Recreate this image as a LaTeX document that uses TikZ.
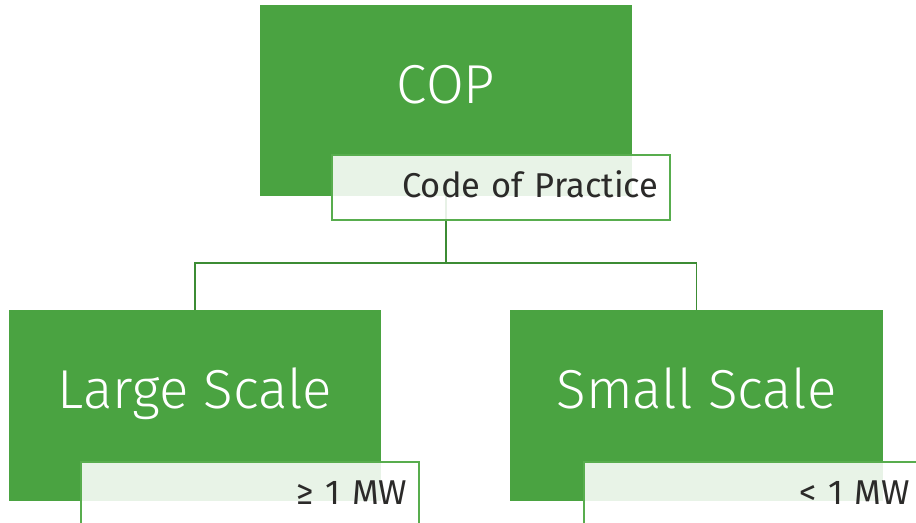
\documentclass[tikz,border=0pt]{standalone}
\usepackage{fontspec}
\setmainfont{Fira Sans}
\newfontfamily\lightfont{Fira Sans Light}
\usetikzlibrary{positioning}
\definecolor{copgreen}{HTML}{4AA341}
\definecolor{linkgreen}{HTML}{3C8C34}
\definecolor{subgreen}{HTML}{58AD4E}
\definecolor{darktext}{HTML}{2B2A29}
\tikzset{
  mainbox/.style={fill=copgreen, text=white, minimum width=9.3cm, minimum height=4.775cm,
    inner sep=0pt, text height=0.95cm, text depth=0.8cm, font=\lightfont\fontsize{39}{44}\selectfont},
  subbox/.style={draw=subgreen, line width=1.4pt, fill=white, fill opacity=0.88, text opacity=1,
    text=darktext, minimum width=8.45cm, minimum height=1.625cm, inner xsep=0.3cm,
    text width=7.85cm, text height=0.6cm, text depth=0.125cm, align=right, anchor=north east,
    font=\fontsize{24.5}{28}\selectfont},
  link/.style={draw=linkgreen, line width=1.4pt}
}
\begin{document}
\begin{tikzpicture}[x=0.025cm,y=-0.025cm]
    \clip (0,0) rectangle (916,523);
    \fill[white] (0,0) rectangle (916,523);
    % boxes
    \node[mainbox] (cop) at (446,100.5) {COP};
    \node[mainbox] (large) at (195,405.5) {Large Scale};
    \node[mainbox] (small) at (696.5,405.5) {Small Scale};
    % tree lines
    \coordinate (fork) at (446,263);
    \draw[link] (cop.south) -- (fork) -| (large.north);
    \draw[link] (fork) -| (small.north);
    % captions
    \node[subbox] (code) at ([shift={(39,-42)}]cop.south east) {Code of Practice};
    \node[subbox] (geq) at ([shift={(39,-40)}]large.south east) {≥ 1 MW};
    \node[subbox] (lt) at ([shift={(40,-40)}]small.south east) {< 1 MW};
\end{tikzpicture}
\end{document}
